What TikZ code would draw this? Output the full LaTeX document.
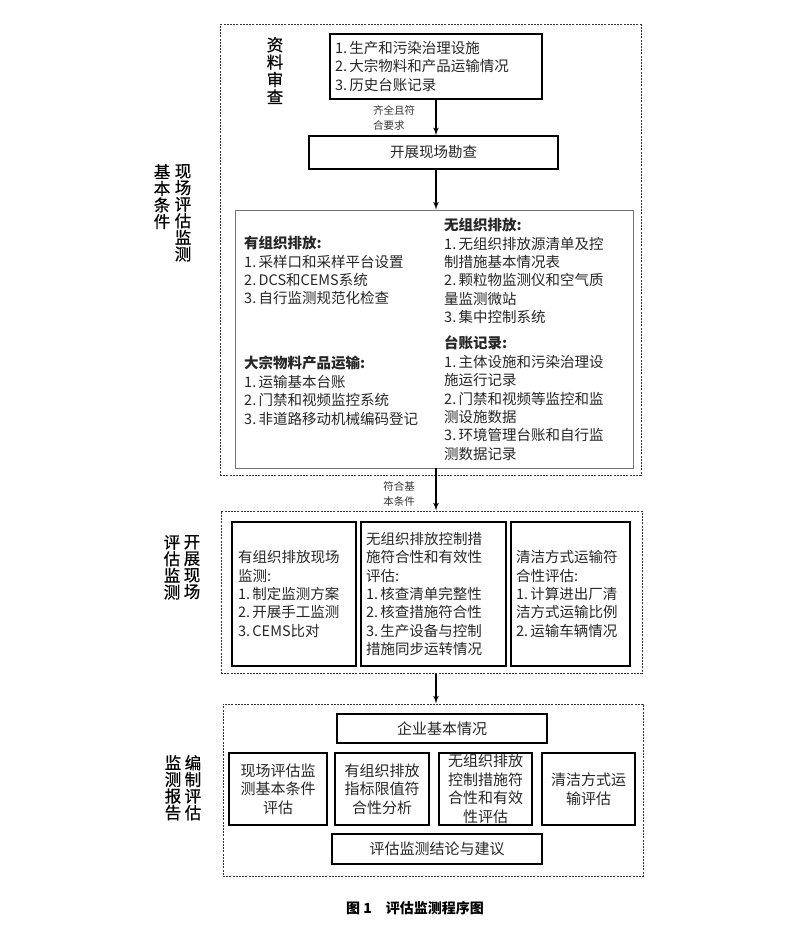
\documentclass[tikz,border=0pt]{standalone}
\usepackage{fontspec}
\setmainfont{Noto Sans CJK SC}
\newfontfamily\heifont[FakeBold=0.6]{Noto Sans CJK SC}
\usetikzlibrary{arrows}

\begin{document}
\begin{tikzpicture}[x=1pt,y=-1pt,
    stage/.style={draw=black!80,line width=1pt,dash pattern=on 2pt off 1.2pt,inner sep=0pt},
    solidbox/.style={draw,line width=1.4pt,inner sep=0pt,text=black!85,font=\fontsize{14.5}{18.4}\selectfont},
    entry/.style={inner sep=0pt,anchor=north west,align=left,text=black!85,font=\fontsize{14.5}{18.4}\selectfont},
    sidelabel/.style={inner sep=0pt,anchor=north,align=center,font=\heifont\fontsize{16.5}{16.6}\selectfont},
    note/.style={inner sep=0pt,align=left,text=black!80,font=\fontsize{10.5}{15}\selectfont},
    flow/.style={line width=1.6pt,-latex'}]
    \useasboundingbox (0,0) rectangle (796,939);

    \node[stage,minimum width=421,minimum height=450] (basic) at (430.5,250) {};
    \node[stage,minimum width=421,minimum height=162] (onsite) at (431.5,592) {};
    \node[stage,minimum width=420,minimum height=172] (report) at (433,790) {};

    \node[sidelabel] (basicA) at (183,164) {现\\场\\评\\估\\监\\测};
    \node[sidelabel] (basicB) at (162,164) {基\\本\\条\\件};
    \node[sidelabel] (onsiteA) at (192,535) {开\\展\\现\\场};
    \node[sidelabel] (onsiteB) at (172,535) {评\\估\\监\\测};
    \node[sidelabel] (reportA) at (193,755) {编\\制\\评\\估};
    \node[sidelabel] (reportB) at (173,755) {监\\测\\报\\告};

    \node[sidelabel,font=\heifont\fontsize{16.5}{17.4}\selectfont] (docslabel) at (275,37) {资\\料\\审\\查};
    \node[solidbox,minimum width=212,minimum height=65,text width=202,align=left] (docs) at (436,66.5)
      {1.\,生产和污染治理设施\\2.\,大宗物料和产品运输情况\\3.\,历史台账记录};
    \node[note] (okdocs) at (394,117.5) {齐全且符\\合要求};
    \node[solidbox,minimum width=249,minimum height=33] (survey) at (433.5,152.5) {开展现场勘查};
    \node[draw=black!55,line width=0.8pt,minimum width=398,minimum height=258,inner sep=0pt] (facts) at (434,339) {};

    \node[entry] (organized) at (244,236) {\textbf{有组织排放:}\\1.\,采样口和采样平台设置\\2.\,DCS和CEMS系统\\3.\,自行监测规范化检查};
    \node[entry] (transport) at (244,356) {\textbf{大宗物料产品运输:}\\1.\,运输基本台账\\2.\,门禁和视频监控系统\\3.\,非道路移动机械编码登记};
    \node[entry] (fugitive) at (444,218) {\textbf{无组织排放:}\\1.\,无组织排放源清单及控\\制措施基本情况表\\2.\,颗粒物监测仪和空气质\\量监测微站\\3.\,集中控制系统};
    \node[entry] (ledger) at (444,336) {\textbf{台账记录:}\\1.\,主体设施和污染治理设\\施运行记录\\2.\,门禁和视频等监控和监\\测设施数据\\3.\,环境管理台账和自行监\\测数据记录};

    \node[note,align=center] (okbasic) at (399,494) {符合基\\本条件};

    \node[solidbox,minimum width=124,minimum height=144,text width=112,align=left] (monitor) at (294,594)
      {有组织排放现场\\监测:\\1.\,制定监测方案\\2.\,开展手工监测\\3.\,CEMS比对};
    \node[solidbox,minimum width=145,minimum height=144,text width=135,align=left] (control) at (433.5,594)
      {无组织排放控制措\\施符合性和有效性\\评估:\\1.\,核查清单完整性\\2.\,核查措施符合性\\3.\,生产设备与控制\\措施同步运转情况};
    \node[solidbox,minimum width=119,minimum height=144,text width=109,align=left] (clean) at (570.5,594)
      {清洁方式运输符\\合性评估:\\1.\,计算进出厂清\\洁方式运输比例\\2.\,运输车辆情况};

    \node[solidbox,minimum width=210,minimum height=29,font=\fontsize{15}{18.5}\selectfont] (firm) at (442,728.5) {企业基本情况};
    \node[solidbox,minimum width=98,minimum height=72,text width=92,align=center,font=\fontsize{15}{18.5}\selectfont] (evalbasic) at (278,789)
      {现场评估监\\测基本条件\\评估};
    \node[solidbox,minimum width=94,minimum height=72,text width=90,align=center,font=\fontsize{15}{18.5}\selectfont] (evallimit) at (382,789)
      {有组织排放\\指标限值符\\合性分析};
    \node[solidbox,minimum width=93,minimum height=72,text width=90,align=center,font=\fontsize{15}{18.5}\selectfont] (evalcontrol) at (485.5,789)
      {无组织排放\\控制措施符\\合性和有效\\性评估};
    \node[solidbox,minimum width=93,minimum height=72,text width=90,align=center,font=\fontsize{15}{18.5}\selectfont] (evalclean) at (588.5,789)
      {清洁方式运\\输评估};
    \node[solidbox,minimum width=210,minimum height=30,font=\fontsize{15}{18.5}\selectfont] (advice) at (437,849) {评估监测结论与建议};

    \node[font=\bfseries\fontsize{14}{16}\selectfont] (caption) at (415,908) {图 1\quad 评估监测程序图};

    \draw[flow] (docs.south) -- (docs.south |- survey.north);
    \draw[flow] (docs.south |- survey.south) -- (docs.south |- facts.north);
    \draw[flow] (docs.south |- facts.south) -- (docs.south |- onsite.north);
    \draw[flow] (docs.south |- onsite.south) -- (docs.south |- report.north);
\end{tikzpicture}
\end{document}
